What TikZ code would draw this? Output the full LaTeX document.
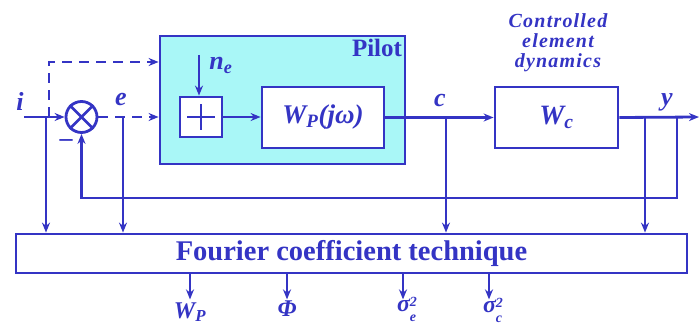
\documentclass[tikz,border=0pt]{standalone}
\usepackage{fontspec}
\setmainfont{Liberation Serif}
\usetikzlibrary{arrows.meta}
\definecolor{lb}{HTML}{3434C4}
\definecolor{pfill}{HTML}{A9F7F7}
\newcommand{\fs}[1]{\fontsize{#1}{#1}\selectfont}
\newcommand{\sigsub}[1]{σ\raisebox{-10pt}{\shortstack[l]{\fs{14}2\\[5pt]\fs{14}#1}}}
\begin{document}
\begin{tikzpicture}[x=1pt,y=-1pt, line width=2.8pt, draw=lb,
  every node/.style={text=lb},
  arr/.style={-{Stealth[length=10pt,width=8pt]}},
  dsh/.style={dash pattern=on 10pt off 7pt},
  blk/.style={draw=lb, fill=white, line width=2.8pt, inner sep=0pt},
  var/.style={font=\bfseries\itshape\fs{26}, inner sep=0pt},
  outv/.style={font=\bfseries\itshape\fs{24}, inner sep=0pt, anchor=north}]
\useasboundingbox (0,0) rectangle (699,326);
% blocks
\node[blk, fill=pfill, minimum width=245pt, minimum height=128pt] (pilot) at (282.5,100) {};
\node[font=\bfseries\fs{25}, inner sep=0pt] (pilotlab) at (377,48) {Pilot};
\node[blk, circle, minimum size=31pt] (sum) at (81.5,117) {};
\draw (sum.45) -- (sum.225) (sum.135) -- (sum.315);
\node[blk, minimum width=42pt, minimum height=40pt] (plus) at (201,117) {};
\draw[line width=2.4pt] ([yshift=-13pt]plus.center) -- ([yshift=13pt]plus.center)
  ([xshift=-14pt]plus.center) -- ([xshift=14pt]plus.center);
\node[blk, minimum width=122pt, minimum height=61pt, font=\bfseries\itshape\fs{27}] (wp) at (323,117.5) {W\textsubscript{P}(jω)};
\node[blk, minimum width=123pt, minimum height=61pt, font=\bfseries\itshape\fs{28}] (wc) at (556.5,117.5) {W\textsubscript{c}};
\node[font=\bfseries\itshape\fs{20}\addfontfeature{LetterSpace=6}, align=center, inner sep=0pt] (cedlab) at (558,43) {\fontsize{20}{19.5}\selectfont Controlled\\element\\dynamics};
\node[blk, minimum width=671pt, minimum height=39pt, font=\bfseries\fs{28.5}] (four) at (351.5,253.5) {Fourier coefficient technique};
% coordinates
\coordinate (iin) at (24,117);
\coordinate (ibr) at (46,117);
\coordinate (dbr) at (49,117);
\coordinate (dtop) at (49,62);
\coordinate (ebr) at (123,117);
\coordinate (ntop) at (199,55);
\coordinate (cbr) at (446,117);
\coordinate (ybr) at (645,117);
\coordinate (fbr) at (677,117);
\coordinate (fbot) at (677,198);
\coordinate (yout) at (699,117);
% labels
\node[var] (ilab) at (20,101) {i};
\node[var] (elab) at (121,100) {e};
\node[var] (clab) at (440,101) {c};
\node[var] (ylab) at (667,102) {y};
\node[var, anchor=base west] (nlab) at (208,70) {n\textsubscript{e}};
\node[font=\bfseries\fs{26}, inner sep=0pt] (minus) at (66,143) {–};
% connectors
\draw[arr] (iin) -- (sum.west);
\draw[arr, dsh] (dbr) -- (dtop) -- (dtop -| pilot.west);
\draw[arr, dsh] (sum.east) -- (sum.east -| pilot.west);
\draw[arr] (ibr) -- (ibr |- four.north);
\draw[arr] (ebr) -- (ebr |- four.north);
\draw[arr] (ntop) -- (ntop |- plus.north);
\draw[arr] (plus.east) -- (plus.east -| wp.west);
\draw[arr] (wp.east) -- (wc.west);
\draw[arr] (cbr) -- (cbr |- four.north);
\draw[arr] (wc.east) -- (yout);
\draw[arr] (ybr) -- (ybr |- four.north);
\draw[arr] (fbr) -- (fbot) -| (sum.south);
% outputs
\node[outv] (owp) at (190,301) {W\textsubscript{P}};
\node[outv] (ophi) at (287,299) {Φ};
\node[outv] (ose) at (407,296) {\sigsub{e}};
\node[outv] (osc) at (493,297) {\sigsub{c}};
\draw[arr] (four.south -| owp) -- ++(0,25);
\draw[arr] (four.south -| ophi) -- ++(0,25);
\draw[arr] (four.south -| 403,0) -- ++(0,25);
\draw[arr] (four.south -| 489,0) -- ++(0,25);
\end{tikzpicture}
\end{document}
